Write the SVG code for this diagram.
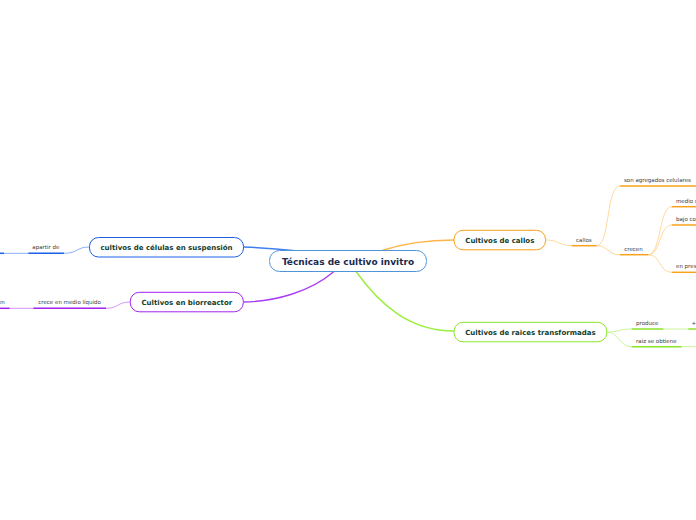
<svg xmlns="http://www.w3.org/2000/svg" width="696" height="520" viewBox="0 0 696 520">
<style>
.bg{fill:#ffffff}
.node{fill:#ffffff;stroke-width:1}
.nt{font-family:"DejaVu Sans",Verdana,sans-serif;font-weight:bold;font-size:7px;fill:#123d2e;text-anchor:middle}
.ct{font-family:"DejaVu Sans",Verdana,sans-serif;font-weight:bold;font-size:9px;fill:#1b2a4e;text-anchor:middle}
.lt{font-family:"DejaVu Sans",Verdana,sans-serif;font-size:5.5px;fill:#3a3a3a}
.main{fill:none;stroke-width:1.4}
.thin{fill:none;stroke-width:0.8}
.ul{fill:none;stroke-width:1.5}
.blue{stroke:#1a5fe6}.blueL{stroke:#6f9bf5}.blueM{stroke:#3f7ff0}
.purple{stroke:#a322f0}.purpleL{stroke:#c77bf7}.purpleM{stroke:#a93cf5}
.orange{stroke:#f7a21b}.orangeL{stroke:#ffcf85}.orangeM{stroke:#ffb44a}
.green{stroke:#8be52b}.greenL{stroke:#bdf383}.greenM{stroke:#9bee3c}
</style>
<rect class="bg" x="0" y="0" width="696" height="520"/>
<g id="connectors">
  <path class="main blueM" d="M298,251 Q270,248 244,247"/>
  <path class="main orangeM" d="M382,250.5 C405,243 425,240 454,240"/>
  <path class="main purpleM" d="M334,271.5 C310,292 275,301.5 243.5,302"/>
  <path class="main greenM" d="M356,271.5 C380,305 410,331 454,331"/>
  <path class="thin blueL" d="M89.5,247 C76,247 78,253.3 64,253.3"/>
  <path class="thin blueL" d="M28.3,253.3 L4,253.3"/>
  <path class="thin purpleL" d="M130,302 C117,302 119,308.3 106,308.3"/>
  <path class="thin purpleL" d="M33.3,308.3 L9.7,308.3"/>
  <path class="thin orangeL" d="M546,240 C559,240 559,245.7 571.7,245.7"/>
  <path class="thin orangeL" d="M596.7,245.7 C610,245.7 606,186 620,186"/>
  <path class="thin orangeL" d="M596.7,245.7 C608,245.7 608,254.7 620,254.7"/>
  <path class="thin orangeL" d="M648.3,254.7 C661,254.7 659,206.7 671.7,206.7"/>
  <path class="thin orangeL" d="M648.3,254.7 C661,254.7 659,225 671.7,225"/>
  <path class="thin orangeL" d="M648.3,254.7 C661,254.7 659,272.3 671.7,272.3"/>
  <path class="thin greenL" d="M606.7,332 C619,332 619,329 631.7,329"/>
  <path class="thin greenL" d="M606.7,332 C619,332 619,346.7 631.7,346.7"/>
  <path class="thin greenL" d="M663.3,329 L688.3,329"/>
  <path class="thin greenL" d="M681.7,346.7 L696,346.7"/>
</g>
<g id="central">
  <rect class="node" x="269.5" y="250.5" width="157" height="21" rx="10" stroke="#4f94d8"/>
  <text class="ct" x="348" y="264.8">Técnicas de cultivo invitro</text>
</g>
<g id="n-suspension">
  <rect class="node blue" x="89.5" y="237.5" width="154" height="19.5" rx="9"/>
  <text class="nt" x="166.5" y="249.6">cultivos de células en suspensión</text>
</g>
<g id="n-biorreactor">
  <rect class="node purple" x="130.3" y="292.3" width="113" height="19.5" rx="9"/>
  <text class="nt" x="186.8" y="304.5">Cultivos en biorreactor</text>
</g>
<g id="n-callos">
  <rect class="node orange" x="454" y="230.3" width="91.5" height="19.5" rx="9"/>
  <text class="nt" x="499.8" y="242.5">Cultivos de callos</text>
</g>
<g id="n-raices">
  <rect class="node green" x="454" y="322.3" width="152.7" height="19.5" rx="9"/>
  <text class="nt" x="530.4" y="334.5">Cultivos de raices transformadas</text>
</g>
<g id="l-apartir">
  <path class="ul blue" d="M28.3,253.3 H64"/>
  <text class="lt" x="32.3" y="249">apartir de</text>
</g>
<g id="l-blue-left">
  <path class="ul blue" d="M0,253.3 H4"/>
</g>
<g id="l-crece">
  <path class="ul purple" d="M33.3,308.3 H106"/>
  <text class="lt" x="38.3" y="304">crece en medio líquido</text>
</g>
<g id="l-en">
  <path class="ul purple" d="M0,308.3 H9.7"/>
  <text class="lt" x="4.8" y="304" text-anchor="end">en</text>
</g>
<g id="l-callos">
  <path class="ul orange" d="M571.7,245.7 H596.7"/>
  <text class="lt" x="576" y="241.5">callos</text>
</g>
<g id="l-son">
  <path class="ul orange" d="M620,186 H696"/>
  <text class="lt" x="624" y="182">son agregados celulares</text>
</g>
<g id="l-crecen">
  <path class="ul orange" d="M620,254.7 H648.3"/>
  <text class="lt" x="624.3" y="250.5">crecen</text>
</g>
<g id="l-medio">
  <path class="ul orange" d="M671.7,206.7 H696"/>
  <text class="lt" x="676" y="202.5">medio s</text>
</g>
<g id="l-bajo">
  <path class="ul orange" d="M671.7,225 H696"/>
  <text class="lt" x="676" y="220.8">bajo co</text>
</g>
<g id="l-enpres">
  <path class="ul orange" d="M671.7,272.3 H696"/>
  <text class="lt" x="676" y="268">en pres</text>
</g>
<g id="l-produce">
  <path class="ul green" d="M631.7,329 H663.3"/>
  <text class="lt" x="636" y="324.8">produce</text>
</g>
<g id="l-plus">
  <path class="ul green" d="M688.3,329 H696"/>
  <text class="lt" x="693.8" y="324.8" text-anchor="middle">+</text>
</g>
<g id="l-raiz">
  <path class="ul green" d="M631.7,346.7 H681.7"/>
  <text class="lt" x="636" y="342.5">raiz se obtiene</text>
</g>
</svg>
